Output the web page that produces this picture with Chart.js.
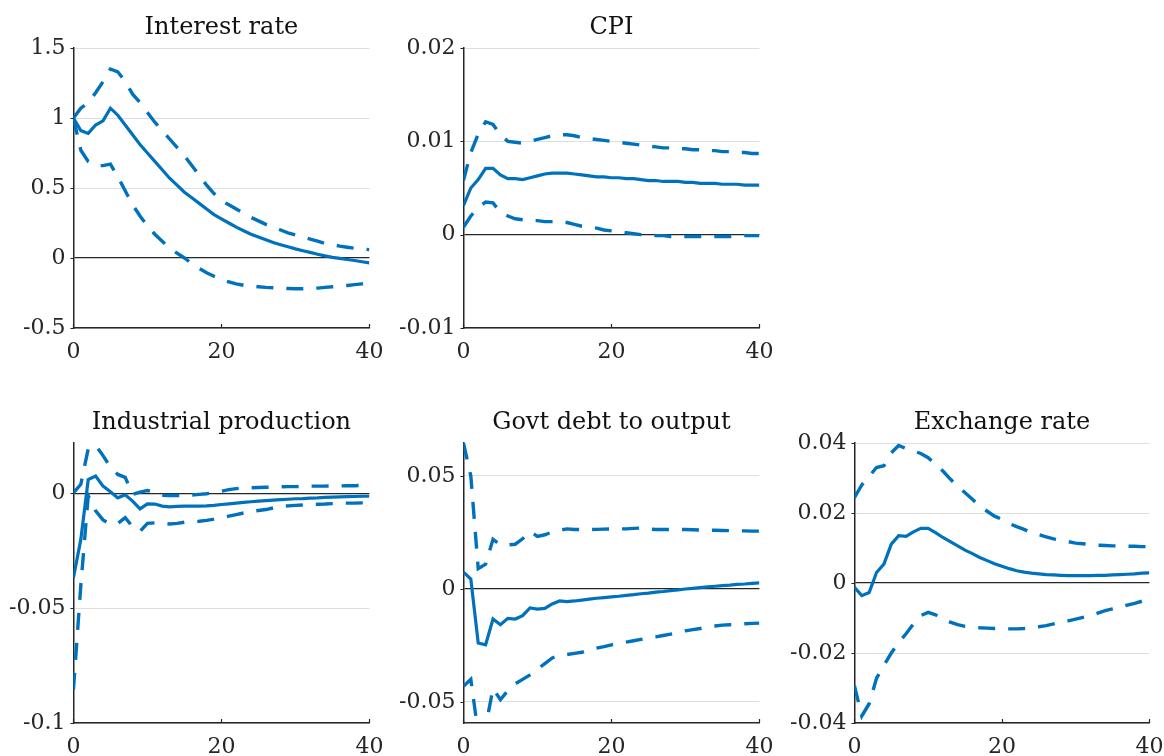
<!DOCTYPE html>
<html>
<head>
<meta charset="utf-8">
<script src="https://cdn.jsdelivr.net/npm/chart.js@4.4.1/dist/chart.umd.min.js"></script>
<style>
  html, body { margin: 0; padding: 0; background: #fff; }
  body { position: relative; width: 1164px; height: 756px; overflow: hidden; }
  canvas { position: absolute; }
</style>
</head>
<body>
<canvas id="irf-rate" width="400" height="380"></canvas>
<canvas id="irf-cpi" width="400" height="380"></canvas>
<canvas id="irf-ip" width="400" height="380"></canvas>
<canvas id="irf-debt" width="400" height="380"></canvas>
<canvas id="irf-fx" width="400" height="380"></canvas>
<script>
// impulse horizons (quarters) and x ticks shared by every panel
const horizons = [0, 1, 2, 3, 4, 5, 6, 7, 8, 9, 10, 11, 12, 13, 14, 15, 16, 17, 18, 19, 20,
  21, 22, 23, 24, 25, 26, 27, 28, 29, 30, 31, 32, 33, 34, 35, 36, 37, 38, 39, 40];
const xTicks = [0, 20, 40];

// Interest rate
const rateMedian = [1.00, 0.91, 0.89, 0.95, 0.98, 1.07, 1.02, 0.95, 0.88, 0.81, 0.75, 0.69, 0.63, 0.57, 0.52, 0.47,
  0.43, 0.39, 0.35, 0.31, 0.28, 0.25, 0.22, 0.195, 0.17, 0.15, 0.13, 0.11, 0.095, 0.08, 0.065, 0.052, 0.04, 0.027,
  0.015, 0.005, -0.003, -0.011, -0.018, -0.027, -0.035];
const rateUpper = [1.00, 1.07, 1.11, 1.18, 1.26, 1.35, 1.33, 1.26, 1.17, 1.11, 1.04, 0.97, 0.91, 0.85, 0.79, 0.73,
  0.66, 0.59, 0.52, 0.46, 0.41, 0.38, 0.35, 0.32, 0.29, 0.265, 0.24, 0.22, 0.20, 0.18, 0.165, 0.15, 0.135, 0.12,
  0.105, 0.095, 0.085, 0.077, 0.07, 0.065, 0.06];
const rateLower = [1.00, 0.77, 0.69, 0.66, 0.66, 0.67, 0.58, 0.48, 0.38, 0.30, 0.23, 0.17, 0.12, 0.07, 0.035, 0.0,
  -0.04, -0.075, -0.105, -0.13, -0.155, -0.17, -0.185, -0.195, -0.20, -0.205, -0.21, -0.213, -0.216, -0.218,
  -0.22, -0.22, -0.218, -0.215, -0.21, -0.205, -0.20, -0.196, -0.19, -0.185, -0.18];
const rateTicks = [-0.5, 0, 0.5, 1, 1.5];
const rateTickLabels = ['-0.5', '0', '0.5', '1', '1.5'];

// CPI
const cpiMedian = [0.0031, 0.0050, 0.0059, 0.0071, 0.0071, 0.0064, 0.0060, 0.0060, 0.0059, 0.0061, 0.0063, 0.0065,
  0.0066, 0.0066, 0.0066, 0.0065, 0.0064, 0.0063, 0.0062, 0.0062, 0.0061, 0.0061, 0.0060, 0.0060, 0.0059, 0.0058,
  0.0058, 0.0057, 0.0057, 0.0057, 0.0056, 0.0056, 0.0055, 0.0055, 0.0055, 0.0054, 0.0054, 0.0054, 0.0053, 0.0053, 0.0053];
const cpiUpper = [0.0058, 0.0088, 0.0108, 0.0121, 0.0118, 0.0107, 0.0100, 0.0099, 0.0098, 0.0100, 0.0102, 0.0104,
  0.0106, 0.0107, 0.0107, 0.0106, 0.0104, 0.0103, 0.0102, 0.0101, 0.0100, 0.0099, 0.0098, 0.0097, 0.0096, 0.0095,
  0.0094, 0.0093, 0.0093, 0.0092, 0.0092, 0.0091, 0.0091, 0.0090, 0.0090, 0.0089, 0.0089, 0.0088, 0.0088, 0.0087, 0.0087];
const cpiLower = [0.0008, 0.0020, 0.0029, 0.0035, 0.0034, 0.0024, 0.0020, 0.0017, 0.0016, 0.0015, 0.0015, 0.0014,
  0.0014, 0.0014, 0.0013, 0.0011, 0.0009, 0.0008, 0.0007, 0.0005, 0.0004, 0.0003, 0.0002, 0.0001, 0.0000, 0.0000,
  -0.0001, -0.0001, -0.0002, -0.0002, -0.0002, -0.0002, -0.0002, -0.0002, -0.0002, -0.0002, -0.0002, -0.0001,
  -0.0001, -0.0001, -0.0001];
const cpiTicks = [-0.01, 0, 0.01, 0.02];
const cpiTickLabels = ['-0.01', '0', '0.01', '0.02'];

// Industrial production
const ipMedian = [-0.0368, -0.0200, 0.0061, 0.0076, 0.0032, 0.0008, -0.0019, -0.0006, -0.0033, -0.0067, -0.0045,
  -0.0046, -0.0055, -0.0058, -0.0056, -0.0055, -0.0055, -0.0055, -0.0054, -0.0052, -0.0048, -0.0045, -0.0042,
  -0.0039, -0.0036, -0.0033, -0.0031, -0.0029, -0.0027, -0.0025, -0.0023, -0.0022, -0.0020, -0.0019, -0.0017,
  -0.0016, -0.0015, -0.0014, -0.0013, -0.0012, -0.0012];
const ipUpper = [0.0003, 0.0040, 0.0195, 0.0210, 0.0165, 0.0115, 0.0083, 0.0070, -0.0004, 0.0006, 0.0013, 0.0005,
  -0.0008, -0.0009, -0.0009, -0.0009, -0.0007, -0.0004, -0.0001, 0.0003, 0.0010, 0.0017, 0.0021, 0.0025, 0.0025,
  0.0026, 0.0027, 0.0028, 0.0029, 0.0030, 0.0030, 0.0031, 0.0032, 0.0032, 0.0032, 0.0033, 0.0033, 0.0034, 0.0034,
  0.0035, 0.0035];
const ipLower = [-0.0855, -0.0400, -0.0010, -0.0075, -0.0115, -0.0135, -0.0130, -0.0105, -0.0145, -0.0165, -0.0130,
  -0.0128, -0.0130, -0.0133, -0.0130, -0.0125, -0.0123, -0.0121, -0.0117, -0.0112, -0.0106, -0.0099, -0.0092,
  -0.0085, -0.0078, -0.0074, -0.0070, -0.0063, -0.0056, -0.0054, -0.0052, -0.0050, -0.0048, -0.0047, -0.0046,
  -0.0044, -0.0043, -0.0042, -0.0042, -0.0041, -0.0041];
const ipTicks = [-0.1, -0.05, 0];
const ipTickLabels = ['-0.1', '-0.05', '0'];

// Govt debt to output
const debtMedian = [0.0075, 0.0044, -0.0239, -0.0247, -0.0133, -0.0158, -0.0130, -0.0133, -0.0118, -0.0084, -0.0089,
  -0.0086, -0.0066, -0.0053, -0.0056, -0.0053, -0.0049, -0.0045, -0.0041, -0.0038, -0.0035, -0.0032, -0.0028,
  -0.0025, -0.0021, -0.0018, -0.0014, -0.0011, -0.0007, -0.0004, 0.0000, 0.0003, 0.0006, 0.0009, 0.0012, 0.0015,
  0.0017, 0.0020, 0.0022, 0.0025, 0.0027];
const debtUpper = [0.0647, 0.0500, 0.0090, 0.0110, 0.0220, 0.0195, 0.0195, 0.0198, 0.0222, 0.0255, 0.0233, 0.0240,
  0.0252, 0.0260, 0.0266, 0.0263, 0.0263, 0.0263, 0.0264, 0.0265, 0.0266, 0.0266, 0.0266, 0.0268, 0.0270, 0.0266,
  0.0263, 0.0263, 0.0263, 0.0263, 0.0263, 0.0262, 0.0261, 0.0260, 0.0260, 0.0259, 0.0258, 0.0257, 0.0257, 0.0256, 0.0256];
const debtLower = [-0.0431, -0.0400, -0.0640, -0.0610, -0.0440, -0.0490, -0.0450, -0.0420, -0.0400, -0.0380,
  -0.0355, -0.0330, -0.0305, -0.0295, -0.0290, -0.0285, -0.0280, -0.0270, -0.0262, -0.0255, -0.0247, -0.0241,
  -0.0235, -0.0229, -0.0223, -0.0217, -0.0212, -0.0206, -0.0200, -0.0195, -0.0185, -0.0180, -0.0175, -0.0168,
  -0.0164, -0.0160, -0.0158, -0.0156, -0.0154, -0.0152, -0.0151];
const debtTicks = [-0.05, 0, 0.05];
const debtTickLabels = ['-0.05', '0', '0.05'];

// Exchange rate
const fxMedian = [-0.0012, -0.0036, -0.0027, 0.0030, 0.0054, 0.0111, 0.0135, 0.0133, 0.0146, 0.0156, 0.0156, 0.0144,
  0.0130, 0.0118, 0.0106, 0.0094, 0.0084, 0.0073, 0.0064, 0.0055, 0.0048, 0.0041, 0.0035, 0.0031, 0.0028, 0.0026,
  0.0024, 0.0023, 0.0022, 0.0021, 0.0021, 0.0021, 0.0021, 0.0022, 0.0022, 0.0023, 0.0024, 0.0025, 0.0026, 0.0028, 0.0029];
const fxUpper = [0.0244, 0.0280, 0.0305, 0.0330, 0.0335, 0.0372, 0.0393, 0.0384, 0.0377, 0.0370, 0.0358, 0.0339,
  0.0320, 0.0297, 0.0277, 0.0258, 0.0239, 0.0220, 0.0205, 0.0191, 0.0182, 0.0170, 0.0161, 0.0153, 0.0144, 0.0138,
  0.0132, 0.0126, 0.0122, 0.0118, 0.0114, 0.0112, 0.0110, 0.0108, 0.0107, 0.0106, 0.0106, 0.0105, 0.0105, 0.0104, 0.0104];
const fxLower = [-0.0293, -0.0380, -0.0345, -0.0272, -0.0235, -0.0200, -0.0170, -0.0145, -0.0117, -0.0093, -0.0084,
  -0.0091, -0.0103, -0.0112, -0.0119, -0.0124, -0.0126, -0.0128, -0.0129, -0.0130, -0.0131, -0.0131, -0.0131,
  -0.0130, -0.0128, -0.0125, -0.0122, -0.0117, -0.0112, -0.0108, -0.0103, -0.0098, -0.0093, -0.0086, -0.0079,
  -0.0074, -0.0069, -0.0063, -0.0058, -0.0052, -0.0046];
const fxTicks = [-0.04, -0.02, 0, 0.02, 0.04];
const fxTickLabels = ['-0.04', '-0.02', '0', '0.02', '0.04'];

const BLUE = '#0072bd';
const INK = '#262626';
const FONT = 'DejaVu Serif';

const panels = [
  { id: 'irf-rate', title: 'Interest rate', area: [73, 48, 296, 280], yMin: -0.5, yMax: 1.5,
    ticks: rateTicks, labels: rateTickLabels, median: rateMedian, upper: rateUpper, lower: rateLower },
  { id: 'irf-cpi', title: 'CPI', area: [463, 48, 296, 280], yMin: -0.01, yMax: 0.02,
    ticks: cpiTicks, labels: cpiTickLabels, median: cpiMedian, upper: cpiUpper, lower: cpiLower },
  { id: 'irf-ip', title: 'Industrial production', area: [73, 443, 296, 280], yMin: -0.1, yMax: 0.022,
    ticks: ipTicks, labels: ipTickLabels, median: ipMedian, upper: ipUpper, lower: ipLower },
  { id: 'irf-debt', title: 'Govt debt to output', area: [463, 443, 296, 280], yMin: -0.0593, yMax: 0.0646,
    ticks: debtTicks, labels: debtTickLabels, median: debtMedian, upper: debtUpper, lower: debtLower },
  { id: 'irf-fx', title: 'Exchange rate', area: [854, 443, 295, 280], yMin: -0.04, yMax: 0.04,
    ticks: fxTicks, labels: fxTickLabels, median: fxMedian, upper: fxUpper, lower: fxLower }
];

// short tick marks pointing into the axes, matlab style
const innerTicks = {
  id: 'innerTicks',
  afterDraw(chart) {
    const { ctx, chartArea, scales: { x, y } } = chart;
    ctx.save();
    ctx.strokeStyle = INK;
    ctx.lineWidth = 1.2;
    ctx.beginPath();
    x.ticks.forEach(t => {
      const px = Math.round(x.getPixelForValue(t.value)) + 0.5;
      ctx.moveTo(px, chartArea.bottom);
      ctx.lineTo(px, chartArea.bottom - 4);
    });
    y.ticks.forEach(t => {
      const py = Math.round(y.getPixelForValue(t.value)) + 0.5;
      ctx.moveTo(chartArea.left - 3, py);
      ctx.lineTo(chartArea.left, py);
    });
    ctx.stroke();
    ctx.restore();
  }
};

// panel title centred over the plot box rather than the whole canvas
const panelTitle = {
  id: 'panelTitle',
  afterDraw(chart, args, opts) {
    const { ctx, chartArea: a } = chart;
    ctx.save();
    ctx.font = '24px "' + FONT + '"';
    ctx.fillStyle = '#111';
    ctx.textAlign = 'center';
    ctx.textBaseline = 'alphabetic';
    ctx.fillText(opts.text, (a.left + a.right) / 2, a.top - 14);
    ctx.restore();
  }
};

function band(data) {
  return { data, borderColor: BLUE, borderWidth: 3.4, borderDash: [17, 13], pointRadius: 0, tension: 0 };
}

function makePanel(p) {
  const chart = new Chart(document.getElementById(p.id), {
    type: 'line',
    data: {
      labels: horizons,
      datasets: [
        band(p.upper),
        band(p.lower),
        { data: p.median, borderColor: BLUE, borderWidth: 3.2, pointRadius: 0, tension: 0 }
      ]
    },
    options: {
      responsive: false,
      maintainAspectRatio: false,
      animation: false,
      events: [],
      layout: { padding: { top: 44, right: 18, bottom: 0, left: 0 } },
      plugins: {
        legend: { display: false },
        tooltip: { enabled: false },
        title: { display: false },
        panelTitle: { text: p.title }
      },
      scales: {
        x: {
          type: 'linear',
          min: 0,
          max: 40,
          afterBuildTicks: s => { s.ticks = xTicks.map(v => ({ value: v })); },
          grid: { display: false, drawTicks: false },
          border: { display: true, color: INK, width: 1.5 },
          ticks: { color: INK, font: { family: FONT, size: 22 }, padding: 11, maxRotation: 0 }
        },
        y: {
          min: p.yMin,
          max: p.yMax,
          afterBuildTicks: s => { s.ticks = p.ticks.map(v => ({ value: v })); },
          grid: {
            drawTicks: false,
            color: c => (c.tick && c.tick.value === 0) ? INK : '#dedede',
            lineWidth: c => (c.tick && c.tick.value === 0) ? 1.2 : 1
          },
          border: { display: true, color: INK, width: 1.5 },
          ticks: {
            color: INK,
            font: { family: FONT, size: 22 },
            padding: 8,
            callback: (v, i) => p.labels[i]
          }
        }
      }
    },
    plugins: [innerTicks, panelTitle]
  });

  // size and shift the canvas so the plot box lands on p.area
  const [left, top, w, h] = p.area;
  let a = chart.chartArea;
  chart.resize(chart.width + w - (a.right - a.left), chart.height + h - (a.bottom - a.top));
  a = chart.chartArea;
  chart.canvas.style.left = (left - a.left) + 'px';
  chart.canvas.style.top = (top - a.top) + 'px';
}

panels.forEach(makePanel);
</script>
</body>
</html>
